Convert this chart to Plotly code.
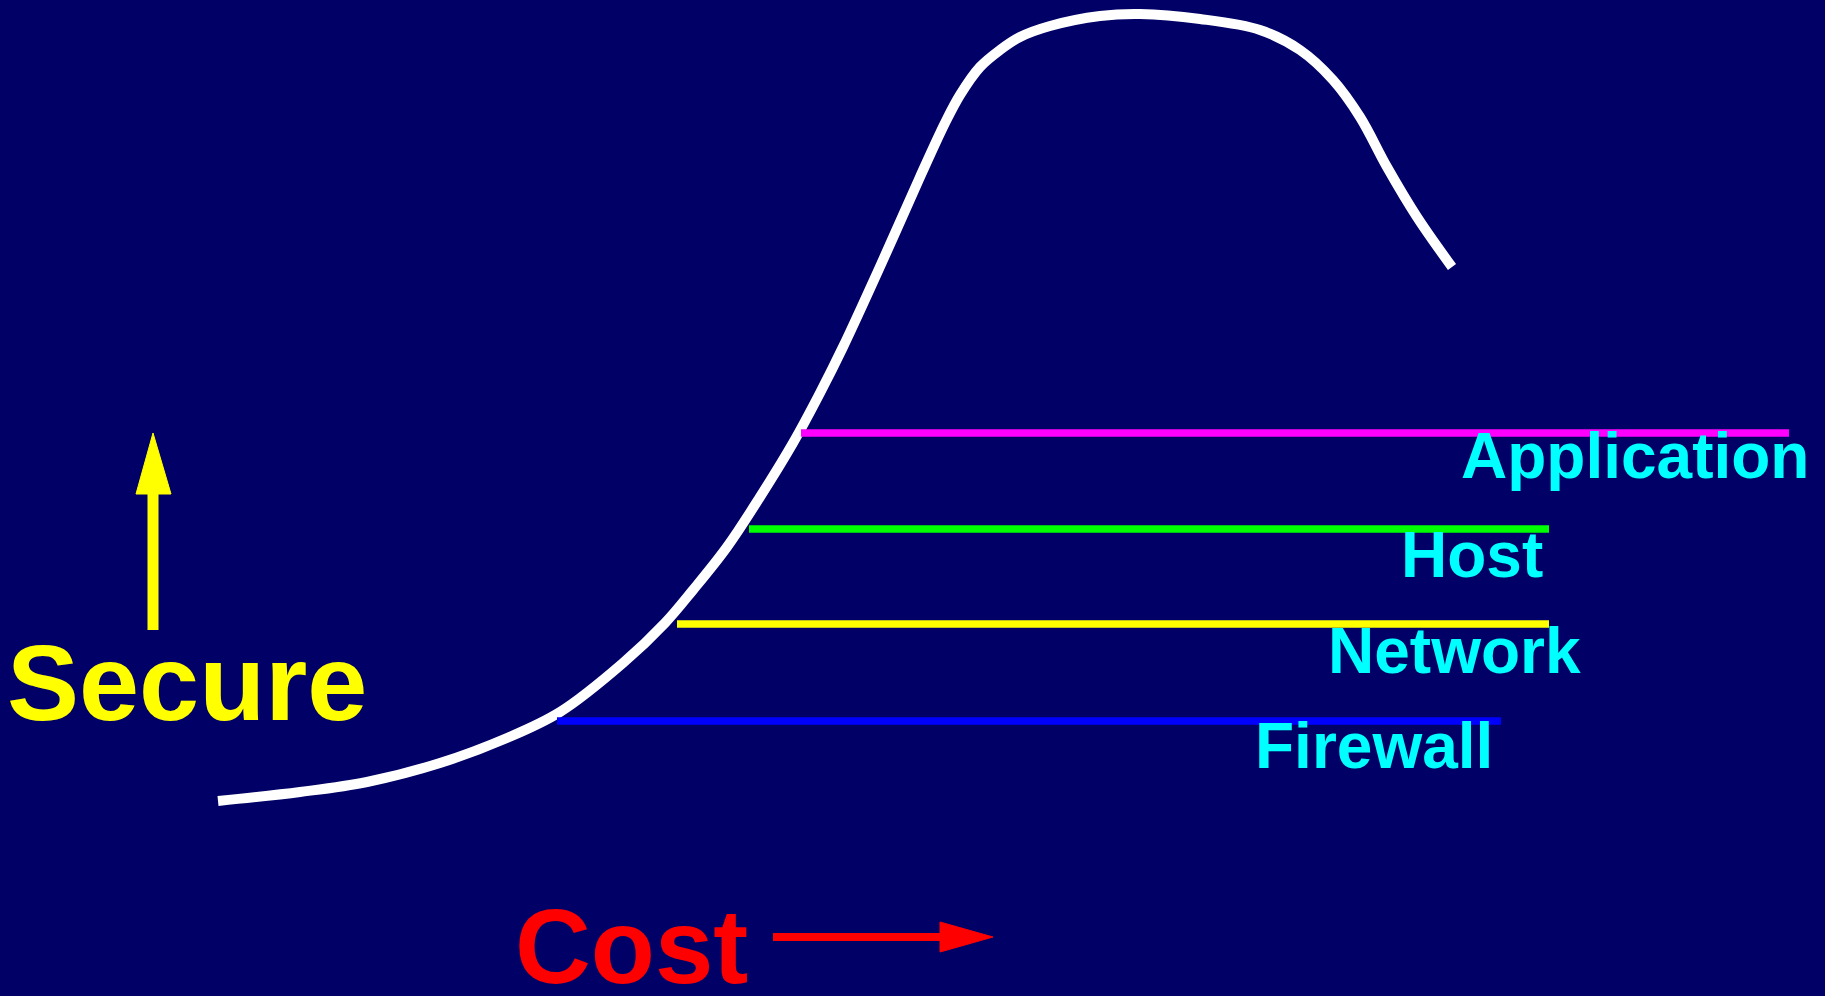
import plotly.graph_objects as go

W, H = 1825, 996
BG = "#000066"
FONT = "Liberation Sans, Arial, sans-serif"

# Cost-vs-security curve (pixel space of the slide)
curve_x = [218, 300, 367, 440, 507, 560, 623, 665, 693, 727, 760, 793, 820, 843, 883,
           920, 945, 960, 980, 1000, 1020, 1050, 1100, 1140, 1200, 1260, 1300, 1333,
           1360, 1387, 1417, 1452]
curve_y = [801, 792, 782, 763, 738, 712, 663, 623, 590, 547, 497, 443, 393, 347, 260,
           177, 123, 95, 67, 50, 37, 26, 16, 14, 19, 30, 50, 80,
           117, 167, 217, 267]

# Security layers
layers = ["Application", "Host", "Network", "Firewall"]
layer_colors = ["#FF00FF", "#00FF00", "#FFFF00", "#0000FF"]
layer_y = [433, 529, 624, 721]
layer_x0 = [801, 749, 677, 557]
layer_x1 = [1789, 1549, 1549, 1501]
label_right = [1811, 1545, 1583, 1495]
label_y = [456, 555, 651, 746]

fig = go.Figure()

fig.add_trace(go.Scatter(
    x=curve_x, y=curve_y, mode="lines",
    line=dict(color="white", width=10, shape="spline", smoothing=1.0, simplify=False),
    hoverinfo="skip", showlegend=False))

for name, c, y, x0, x1 in zip(layers, layer_colors, layer_y, layer_x0, layer_x1):
    fig.add_trace(go.Scatter(
        x=[x0, x1], y=[y, y], mode="lines",
        line=dict(color=c, width=7.5), name=name,
        hoverinfo="skip", showlegend=False))

for name, xr, y in zip(layers, label_right, label_y):
    fig.add_annotation(x=xr, y=y, text=name, showarrow=False,
                       xanchor="right", yanchor="middle",
                       font=dict(family=FONT, size=64, color="#00FFFF", weight="bold"))

# "Secure" label with upward arrow
fig.add_annotation(x=187, y=682, text="Secure", showarrow=False,
                   xanchor="center", yanchor="middle",
                   font=dict(family=FONT, size=108, color="#FFFF00", weight="bold"))
fig.add_shape(type="line", x0=153, x1=153, y0=630, y1=490,
              line=dict(color="#FFFF00", width=11))
fig.add_shape(type="path", path="M 136 494 L 171 494 L 153 433 Z",
              fillcolor="#FFFF00", line=dict(color="#FFFF00", width=1))

# "Cost" label with rightward arrow
fig.add_annotation(x=631, y=946, text="Cost", showarrow=False,
                   xanchor="center", yanchor="middle",
                   font=dict(family=FONT, size=105, color="#FF0000", weight="bold"))
fig.add_shape(type="line", x0=773, x1=944, y0=937, y1=937,
              line=dict(color="#FF0000", width=8))
fig.add_shape(type="path", path="M 940 922 L 940 952 L 993 937 Z",
              fillcolor="#FF0000", line=dict(color="#FF0000", width=1))

fig.update_layout(
    width=W, height=H,
    margin=dict(l=0, r=0, t=0, b=0),
    paper_bgcolor=BG, plot_bgcolor=BG,
    xaxis=dict(range=[0, W], visible=False, fixedrange=True),
    yaxis=dict(range=[H, 0], visible=False, fixedrange=True),
    showlegend=False,
)

fig.write_html(
    "out.html",
    config={"displayModeBar": False},
    post_script="document.body.style.margin='0px';document.body.style.overflow='hidden';"
                "document.body.style.background='#000066';",
)
